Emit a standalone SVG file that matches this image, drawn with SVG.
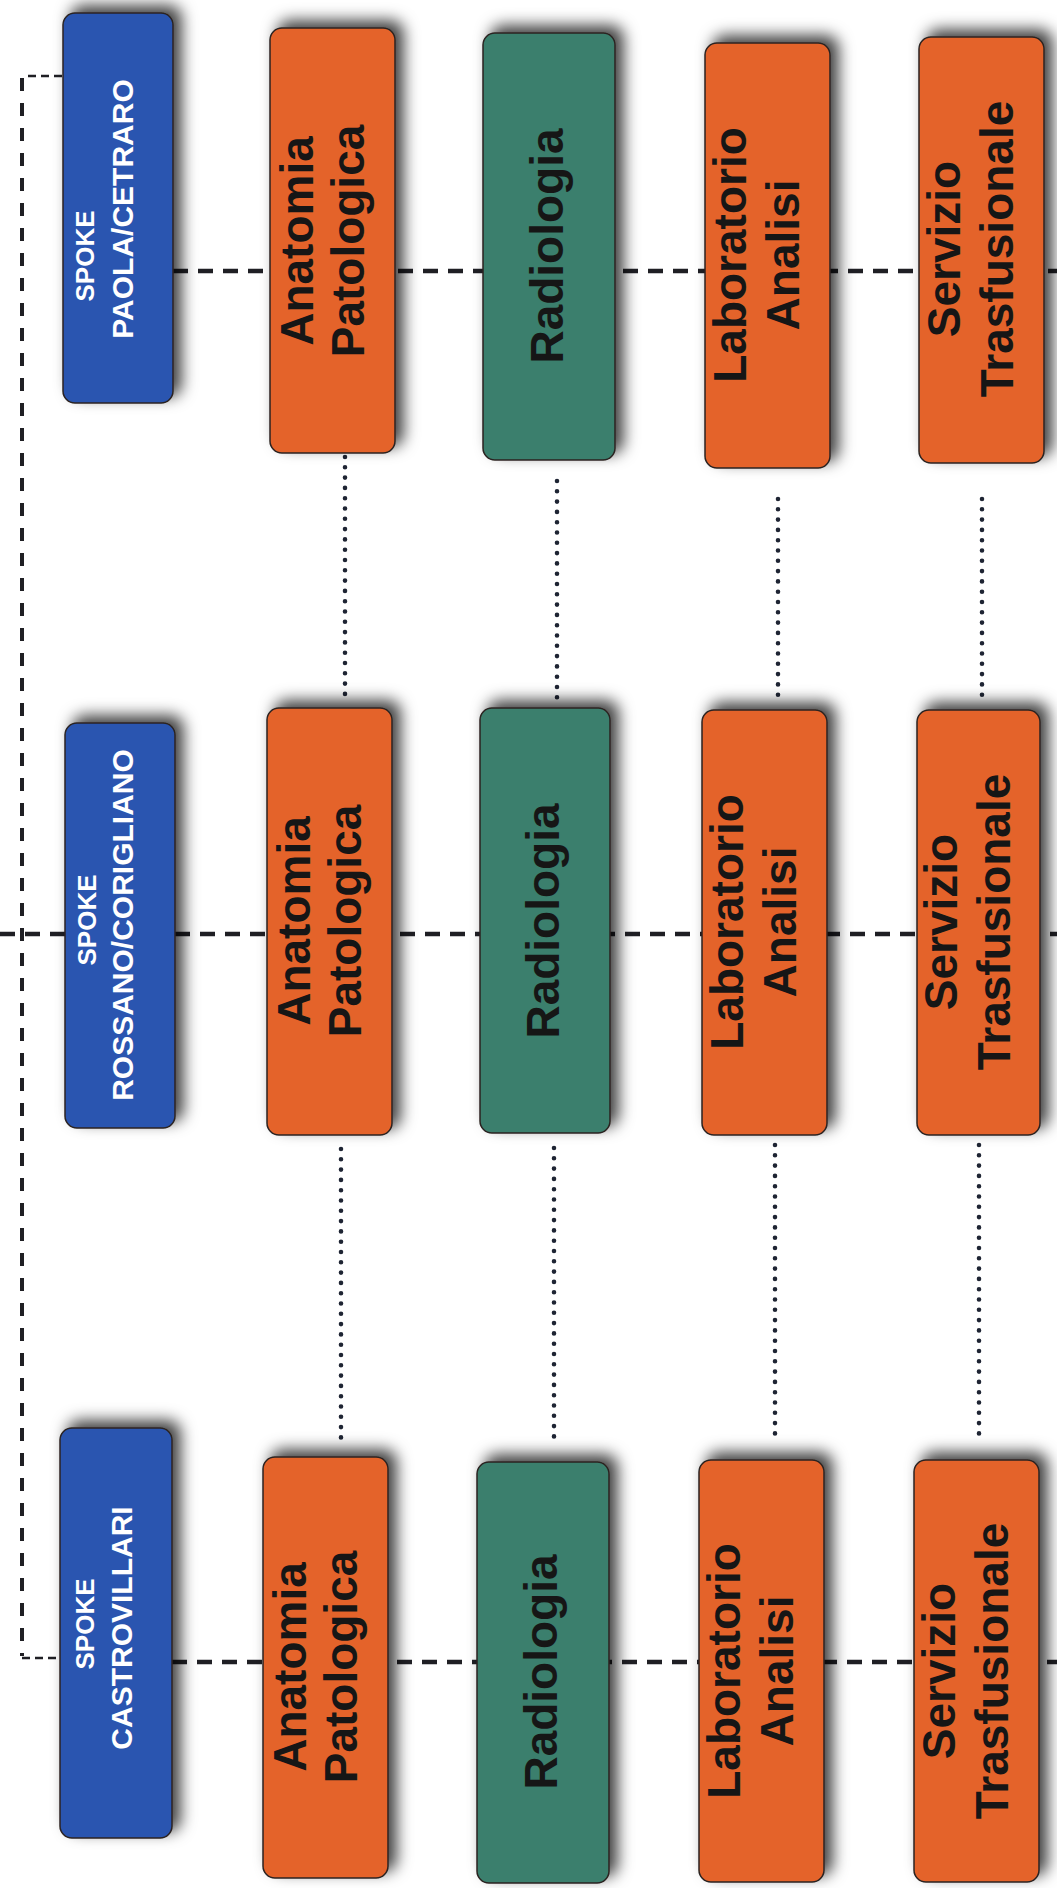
<svg xmlns="http://www.w3.org/2000/svg" width="1057" height="1888" viewBox="0 0 1057 1888">
  <defs>
    <filter id="shadow" x="-30%" y="-15%" width="160%" height="130%">
      <feGaussianBlur in="SourceAlpha" stdDeviation="7.5" result="blur"/>
      <feOffset in="blur" dx="8" dy="-7" result="off"/>
      <feFlood flood-color="#000" flood-opacity="0.75"/>
      <feComposite in2="off" operator="in" result="shade"/>
      <feMerge>
        <feMergeNode in="shade"/>
        <feMergeNode in="SourceGraphic"/>
      </feMerge>
    </filter>
  </defs>
  <style>
    .box { stroke: #2b2320; stroke-width: 1.5; filter: url(#shadow); }
    .spoke { fill: #2955b0; }
    .svc { fill: #e4632c; }
    .rad { fill: #3b7f6d; }
    .lbl { font-family: "Liberation Sans", Arial, sans-serif; font-weight: bold; text-anchor: middle; }
    .lw { fill: #ffffff; }
    .lb { fill: #161616; font-size: 46px; }
    .link { fill: none; stroke: #1f1f24; stroke-width: 4.5; stroke-dasharray: 15 10; }
    .trunk { fill: none; stroke: #1f1f24; stroke-width: 4; stroke-dasharray: 13 12; }
    .stub { fill: none; stroke: #1f1f24; stroke-width: 2.5; stroke-dasharray: 8 5; }
    .dots { fill: none; stroke: #1e2433; stroke-width: 4.6; stroke-linecap: round; stroke-dasharray: 0 10.3; }
  </style>
  <rect width="1057" height="1888" fill="#ffffff"/>

  <g id="connectors">
    <!-- trunk joining the three spokes -->
    <path class="stub" d="M62 76 H23"/>
    <path class="trunk" d="M22 78 V1656"/>
    <path class="stub" d="M22 1658 H60"/>
    <!-- row links through each spoke's services -->
    <path class="link" d="M173 271 H1057"/>
    <path class="link" d="M0 934 H1057"/>
    <path class="link" d="M172 1662 H1057"/>
    <!-- links between equal services of neighbouring spokes -->
    <path class="dots" d="M345 457 V700"/>
    <path class="dots" d="M557 481 V698"/>
    <path class="dots" d="M778 499 V697"/>
    <path class="dots" d="M982 499 V695"/>
    <path class="dots" d="M341 1149 V1447"/>
    <path class="dots" d="M554 1148 V1445"/>
    <path class="dots" d="M775 1145 V1443"/>
    <path class="dots" d="M979 1145 V1441"/>
  </g>

  <!-- Spoke Paola/Cetraro -->
  <g id="spoke-paola">
    <rect class="box spoke" x="63" y="13" width="110" height="390" rx="12"/>
    <text class="lbl lw" font-size="26" transform="translate(94,256) rotate(-90)">SPOKE</text>
    <text class="lbl lw" font-size="30" transform="translate(133,209) rotate(-90)">PAOLA/CETRARO</text>
  </g>
  <g id="paola-anatomia">
    <rect class="box svc" x="270" y="28" width="125" height="425" rx="12"/>
    <text class="lbl lb" transform="translate(313,241) rotate(-90)"><tspan x="0">Anatomia</tspan><tspan x="0" dy="51">Patologica</tspan></text>
  </g>
  <g id="paola-radiologia">
    <rect class="box rad" x="483" y="33" width="132" height="427" rx="12"/>
    <text class="lbl lb" transform="translate(563,246) rotate(-90)">Radiologia</text>
  </g>
  <g id="paola-laboratorio">
    <rect class="box svc" x="705" y="43" width="125" height="425" rx="12"/>
    <text class="lbl lb" transform="translate(746,255) rotate(-90)"><tspan x="0">Laboratorio</tspan><tspan x="0" dy="53">Analisi</tspan></text>
  </g>
  <g id="paola-trasfusionale">
    <rect class="box svc" x="919" y="37" width="125" height="426" rx="12"/>
    <text class="lbl lb" transform="translate(960,249) rotate(-90)"><tspan x="0">Servizio</tspan><tspan x="0" dy="53">Trasfusionale</tspan></text>
  </g>

  <!-- Spoke Rossano/Corigliano -->
  <g id="spoke-rossano">
    <rect class="box spoke" x="65" y="723" width="110" height="405" rx="12"/>
    <text class="lbl lw" font-size="26" transform="translate(96,920) rotate(-90)">SPOKE</text>
    <text class="lbl lw" font-size="30" transform="translate(133,925) rotate(-90)">ROSSANO/CORIGLIANO</text>
  </g>
  <g id="rossano-anatomia">
    <rect class="box svc" x="267" y="708" width="125" height="427" rx="12"/>
    <text class="lbl lb" transform="translate(310,921) rotate(-90)"><tspan x="0">Anatomia</tspan><tspan x="0" dy="51">Patologica</tspan></text>
  </g>
  <g id="rossano-radiologia">
    <rect class="box rad" x="480" y="708" width="130" height="425" rx="12"/>
    <text class="lbl lb" transform="translate(559,921) rotate(-90)">Radiologia</text>
  </g>
  <g id="rossano-laboratorio">
    <rect class="box svc" x="702" y="710" width="125" height="425" rx="12"/>
    <text class="lbl lb" transform="translate(743,922) rotate(-90)"><tspan x="0">Laboratorio</tspan><tspan x="0" dy="53">Analisi</tspan></text>
  </g>
  <g id="rossano-trasfusionale">
    <rect class="box svc" x="917" y="710" width="123" height="425" rx="12"/>
    <text class="lbl lb" transform="translate(957,922) rotate(-90)"><tspan x="0">Servizio</tspan><tspan x="0" dy="53">Trasfusionale</tspan></text>
  </g>

  <!-- Spoke Castrovillari -->
  <g id="spoke-castrovillari">
    <rect class="box spoke" x="60" y="1428" width="112" height="410" rx="12"/>
    <text class="lbl lw" font-size="26" transform="translate(94,1624) rotate(-90)">SPOKE</text>
    <text class="lbl lw" font-size="30" transform="translate(132,1628) rotate(-90)">CASTROVILLARI</text>
  </g>
  <g id="castrovillari-anatomia">
    <rect class="box svc" x="263" y="1457" width="125" height="421" rx="12"/>
    <text class="lbl lb" transform="translate(306,1667) rotate(-90)"><tspan x="0">Anatomia</tspan><tspan x="0" dy="51">Patologica</tspan></text>
  </g>
  <g id="castrovillari-radiologia">
    <rect class="box rad" x="477" y="1462" width="132" height="421" rx="12"/>
    <text class="lbl lb" transform="translate(557,1672) rotate(-90)">Radiologia</text>
  </g>
  <g id="castrovillari-laboratorio">
    <rect class="box svc" x="699" y="1460" width="125" height="422" rx="12"/>
    <text class="lbl lb" transform="translate(740,1671) rotate(-90)"><tspan x="0">Laboratorio</tspan><tspan x="0" dy="53">Analisi</tspan></text>
  </g>
  <g id="castrovillari-trasfusionale">
    <rect class="box svc" x="914" y="1460" width="125" height="422" rx="12"/>
    <text class="lbl lb" transform="translate(955,1671) rotate(-90)"><tspan x="0">Servizio</tspan><tspan x="0" dy="53">Trasfusionale</tspan></text>
  </g>
</svg>
